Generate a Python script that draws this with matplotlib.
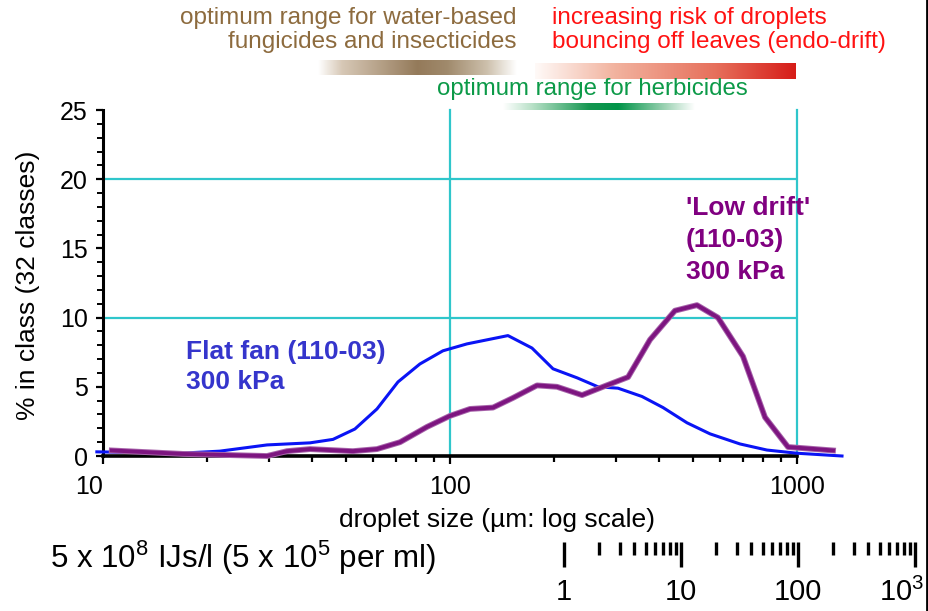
import numpy as np
import matplotlib
matplotlib.use('Agg')
import matplotlib.pyplot as plt
from matplotlib.ticker import FixedLocator, FixedFormatter, MultipleLocator, NullFormatter, LogLocator
from matplotlib.lines import Line2D

plt.rcParams['font.family'] = ['Liberation Sans', 'DejaVu Sans']
plt.rcParams['mathtext.fontset'] = 'custom'
plt.rcParams['mathtext.rm'] = 'Liberation Sans'
plt.rcParams['mathtext.it'] = 'Liberation Sans:italic'
plt.rcParams['mathtext.bf'] = 'Liberation Sans:bold'

# droplet spectra (um, % in class)
flat_fan_size = [9.6, 12.8, 16.7, 21.7, 29.7, 39.5, 46.0, 53.2, 61.6, 70.8, 81.9, 95.4,
                 111.9, 146.9, 172.3, 198.1, 232.3, 267.0, 304.9, 357.5, 411.1, 481.9,
                 561.5, 685.0, 819.3, 1000, 1348]
flat_fan_pct = [0.3, 0.25, 0.2, 0.35, 0.8, 0.95, 1.2, 1.95, 3.4, 5.35, 6.65, 7.6,
                8.1, 8.7, 7.8, 6.3, 5.65, 5.0, 4.9, 4.3, 3.5, 2.4,
                1.6, 0.87, 0.43, 0.2, 0.0]

low_drift_size = [10.6, 17.0, 29.7, 33.9, 39.5, 52.5, 61.6, 71.8, 85.8, 100, 114.2, 133.0,
                  151.9, 178.1, 203.4, 240.2, 276.0, 326.0, 377.0, 444.9, 514.9, 591.9,
                  698.7, 808.6, 942.1, 1270]
low_drift_pct = [0.4, 0.15, 0.0, 0.35, 0.5, 0.35, 0.5, 1.0, 2.1, 2.9, 3.4, 3.5,
                 4.2, 5.1, 5.0, 4.4, 5.0, 5.7, 8.4, 10.5, 10.9, 10.0,
                 7.2, 2.8, 0.65, 0.4]

x_ticks = [10, 100, 1000]
x_labels = ['10', '100', '1000']
y_ticks = [0, 5, 10, 15, 20, 25]

scale_ticks = [1, 10, 100, 1000]
scale_labels = ['1', '10', '100', '']
scale_last = r'$\mathregular{10^3}$'

CYAN = '#2fc6cb'
BLUE = '#0a14f5'
PURPLE = '#7d1580'


def gradient(stops, n=300):
    # horizontal colour ramp from (position, rgb 0-255) stops
    pos = [s[0] for s in stops]
    cols = np.array([s[1] for s in stops], dtype=float) / 255.0
    t = np.linspace(0, 1, n)
    img = np.stack([np.interp(t, pos, cols[:, k]) for k in range(3)], axis=-1)
    return img[np.newaxis, :, :]


fig = plt.figure(figsize=(9.29, 6.11), dpi=100)

# overlay in pixel coordinates for the range bars and notes
ov = fig.add_axes([0, 0, 1, 1])
ov.axis('off')

brown = gradient([(0, (255, 255, 255)), (0.12, (215, 200, 182)), (0.5, (148, 122, 90)),
                  (0.65, (160, 138, 108)), (0.85, (205, 192, 172)), (1, (255, 255, 255))])
red = gradient([(0, (255, 250, 248)), (0.3, (242, 180, 160)), (0.7, (230, 110, 90)),
                (1, (214, 28, 24))])
green = gradient([(0, (255, 255, 255)), (0.15, (185, 225, 200)), (0.45, (20, 150, 80)),
                  (0.6, (0, 148, 72)), (0.85, (160, 212, 182)), (1, (255, 255, 255))])
ov.imshow(brown, extent=(318, 517, 75, 60), aspect='auto', interpolation='bilinear')
ov.imshow(red, extent=(535, 796, 79, 63), aspect='auto', interpolation='bilinear')
ov.imshow(green, extent=(503, 695, 119, 103), aspect='auto', interpolation='bilinear')
ov.set_xlim(0, 929)
ov.set_ylim(611, 0)

brown_c = '#8d6b3e'
ov.text(517, 18, 'optimum range for water-based', ha='right', va='center', fontsize=17.5, color=brown_c)
ov.text(517, 42, 'fungicides and insecticides', ha='right', va='center', fontsize=17.5, color=brown_c)
ov.text(552, 18, 'increasing risk of droplets', ha='left', va='center', fontsize=17.5, color='#ff1212')
ov.text(552, 42, 'bouncing off leaves (endo-drift)', ha='left', va='center', fontsize=17.5, color='#ff1212')
ov.text(592, 89, 'optimum range for herbicides', ha='center', va='center', fontsize=17.3, color='#0c9a48')

ov.text(50, 558, r'5 x 10$^8$ IJs/l (5 x 10$^5$ per ml)', ha='left', va='center', fontsize=22.5)
ov.text(924, 592, scale_last, ha='right', va='center', fontsize=21)

fig.add_artist(Line2D([0.998, 0.998], [0, 1], transform=fig.transFigure, color='black', lw=2))

# main chart
ax = fig.add_axes([103 / 929, 155 / 611, 694 / 929, 346 / 611])
ax.set_xscale('log')
ax.set_xlim(10, 1000)
ax.set_ylim(0, 25)

for yv in [10, 20]:
    ax.axhline(yv, color=CYAN, lw=1.6, zorder=1)
for xv in [100, 1000]:
    ax.axvline(xv, color=CYAN, lw=1.6, zorder=1, clip_on=False)

ax.plot(flat_fan_size, flat_fan_pct, color=BLUE, lw=2.2, clip_on=False, zorder=3)
ax.plot(low_drift_size, low_drift_pct, color='#a763aa', lw=4.2, clip_on=False, zorder=3)
ax.plot(low_drift_size, low_drift_pct, color=PURPLE, lw=2.8, clip_on=False, zorder=4)

ax.spines['top'].set_visible(False)
ax.spines['right'].set_visible(False)
ax.spines['left'].set_linewidth(2.2)
ax.spines['bottom'].set_linewidth(2.6)

ax.xaxis.set_major_locator(FixedLocator(x_ticks))
ax.xaxis.set_major_formatter(FixedFormatter(x_labels))
ax.xaxis.set_minor_locator(LogLocator(base=10, subs=np.arange(2, 10)))
ax.xaxis.set_minor_formatter(NullFormatter())
ax.set_yticks(y_ticks)
ax.yaxis.set_minor_locator(MultipleLocator(1))

ax.tick_params(axis='both', which='major', labelsize=18, width=1.6, direction='out')
ax.tick_params(axis='x', which='major', length=6, pad=8)
ax.tick_params(axis='x', which='minor', length=4, width=1.6)
ax.tick_params(axis='y', which='major', length=5, pad=6)
ax.tick_params(axis='y', which='minor', length=4, width=1.4)
ax.xaxis.get_major_ticks()[0].label1.set_horizontalalignment('right')

ax.set_xlabel('droplet size (µm: log scale)', fontsize=19)
ax.xaxis.set_label_coords(0.568, -0.150)
ax.set_ylabel('% in class (32 classes)', fontsize=19)
ax.yaxis.set_label_coords(-0.091, 0.494)

ax.text(186, 352, 'Flat fan (110-03)', transform=ov.transData, ha='left', va='center',
        fontsize=19, fontweight='bold', color='#3535cc')
ax.text(186, 382, '300 kPa', transform=ov.transData, ha='left', va='center',
        fontsize=19, fontweight='bold', color='#3535cc')
for i, line in enumerate(["'Low drift'", '(110-03)', '300 kPa']):
    ax.text(686, 208 + 32 * i, line, transform=ov.transData, ha='left', va='center',
            fontsize=19, fontweight='bold', color='#800080')

# concentration scale strip
sc = fig.add_axes([564 / 929, 69 / 611, 351 / 929, 0.0005])
sc.set_xscale('log')
sc.set_xlim(1, 1000)
sc.set_yticks([])
for s in sc.spines.values():
    s.set_visible(False)
sc.xaxis.set_major_locator(FixedLocator(scale_ticks))
sc.xaxis.set_major_formatter(FixedFormatter(scale_labels))
sc.xaxis.set_minor_locator(LogLocator(base=10, subs=np.arange(2, 10)))
sc.xaxis.set_minor_formatter(NullFormatter())
sc.tick_params(axis='x', which='major', length=18, width=2.4, labelsize=21, pad=8)
sc.tick_params(axis='x', which='minor', length=9, width=2.4)

fig.savefig('out.png', dpi=100)
